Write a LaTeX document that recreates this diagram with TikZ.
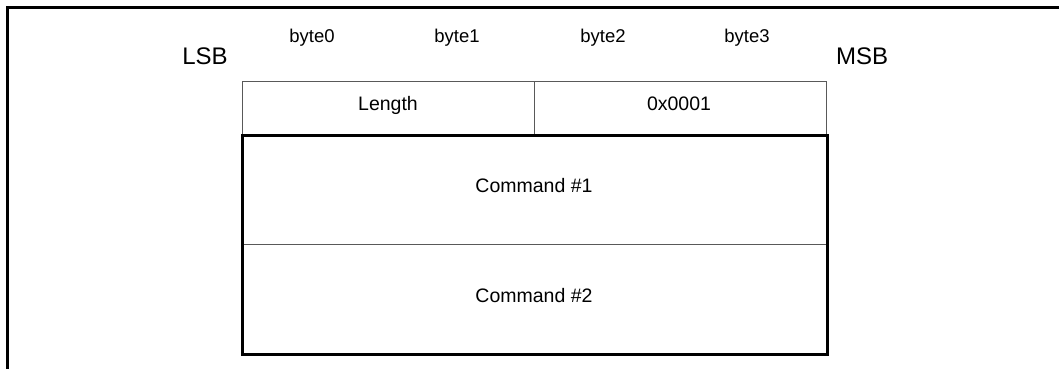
\documentclass[tikz,border=0pt]{standalone}
\usepackage{fontspec}
\setmainfont{Liberation Sans}
\begin{document}
\begin{tikzpicture}[x=1pt,y=-1pt,
  cell/.style={draw=black!65, line width=1.3pt, inner sep=0pt, anchor=north west},
  lbl/.style={inner sep=0pt, anchor=base, font=\fontsize{19.5}{22}\selectfont},
  bytelbl/.style={inner sep=0pt, anchor=base, font=\fontsize{18.5}{21}\selectfont},
  endlbl/.style={inner sep=0pt, anchor=base, font=\fontsize{24}{27}\selectfont}]
\useasboundingbox (0,0) rectangle (1059,369);
% outer frame
\draw[line width=3pt] (7,369) -- (7,8) -- (1059,8);
% header cells
\node[cell, minimum width=292pt, minimum height=54pt] (lenc) at (242,81) {};
\node[cell, minimum width=292pt, minimum height=54pt] (idc) at (534,81) {};
% command cells
\node[cell, minimum width=584pt, minimum height=109pt] (cmd1) at (242,135) {};
\node[cell, minimum width=584pt, minimum height=109pt] (cmd2) at (242,244) {};
\draw[line width=3pt] (cmd1.north west) -- (cmd2.south west) -- (cmd2.south east) -- (cmd1.north east) -- cycle;
% labels
\node[lbl] (tlen) at (388,110) {Length};
\node[lbl] (tid) at (679,110) {0x0001};
\node[lbl] (tc1) at (534,192) {Command \#1};
\node[lbl] (tc2) at (534,302) {Command \#2};
\node[bytelbl] (b0) at (312,43) {byte0};
\node[bytelbl] (b1) at (457,43) {byte1};
\node[bytelbl] (b2) at (603,43) {byte2};
\node[bytelbl] (b3) at (747,43) {byte3};
\node[endlbl] (lsb) at (205,64) {LSB};
\node[endlbl] (msb) at (862,64) {MSB};
\end{tikzpicture}
\end{document}
